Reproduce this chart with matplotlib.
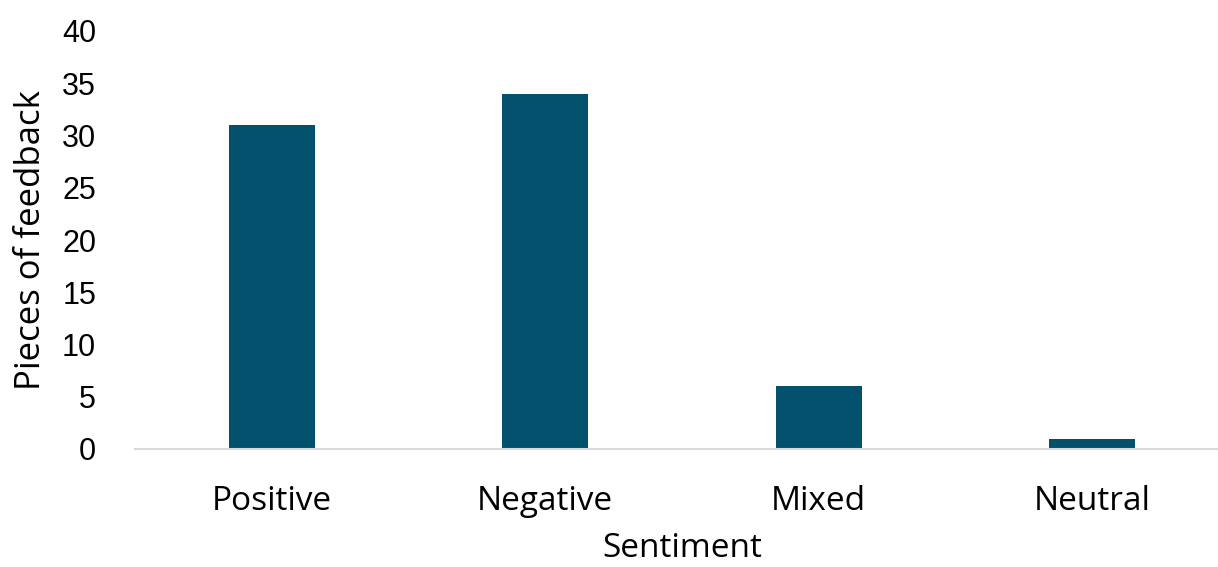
import matplotlib
matplotlib.use("Agg")
import matplotlib.pyplot as plt

categories = ["Positive", "Negative", "Mixed", "Neutral"]
counts = [31, 34, 6, 1]
y_ticks = [0, 5, 10, 15, 20, 25, 30, 35, 40]

bar_color = "#02506B"
label_font = "Open Sans"
num_font = "Liberation Sans"

fig = plt.figure(figsize=(12.18, 5.67), dpi=100)
ax = fig.add_axes([135 / 1218, 118 / 567, 1094 / 1218, 418 / 567])

x = range(len(categories))
ax.bar(x, counts, width=0.314, color=bar_color, zorder=2)

ax.set_xlim(-0.5, 3.5)
ax.set_ylim(0, 40)
ax.set_yticks(y_ticks)
ax.set_yticklabels([str(v) for v in y_ticks], fontsize=22, family=num_font)
ax.set_xticks(list(x))
ax.set_xticklabels(categories, fontsize=24, family=label_font)

for side in ["top", "right", "left"]:
    ax.spines[side].set_visible(False)
ax.spines["bottom"].set_color("#D9D9D9")
ax.spines["bottom"].set_linewidth(1.5)
ax.tick_params(axis="both", length=0)
ax.tick_params(axis="y", pad=28)
ax.tick_params(axis="x", pad=26)

ax.set_xlabel("Sentiment", fontsize=24, family=label_font, labelpad=10)
ax.set_ylabel("Pieces of feedback", fontsize=25, family=label_font, labelpad=10)

fig.savefig("out.png", dpi=100)
